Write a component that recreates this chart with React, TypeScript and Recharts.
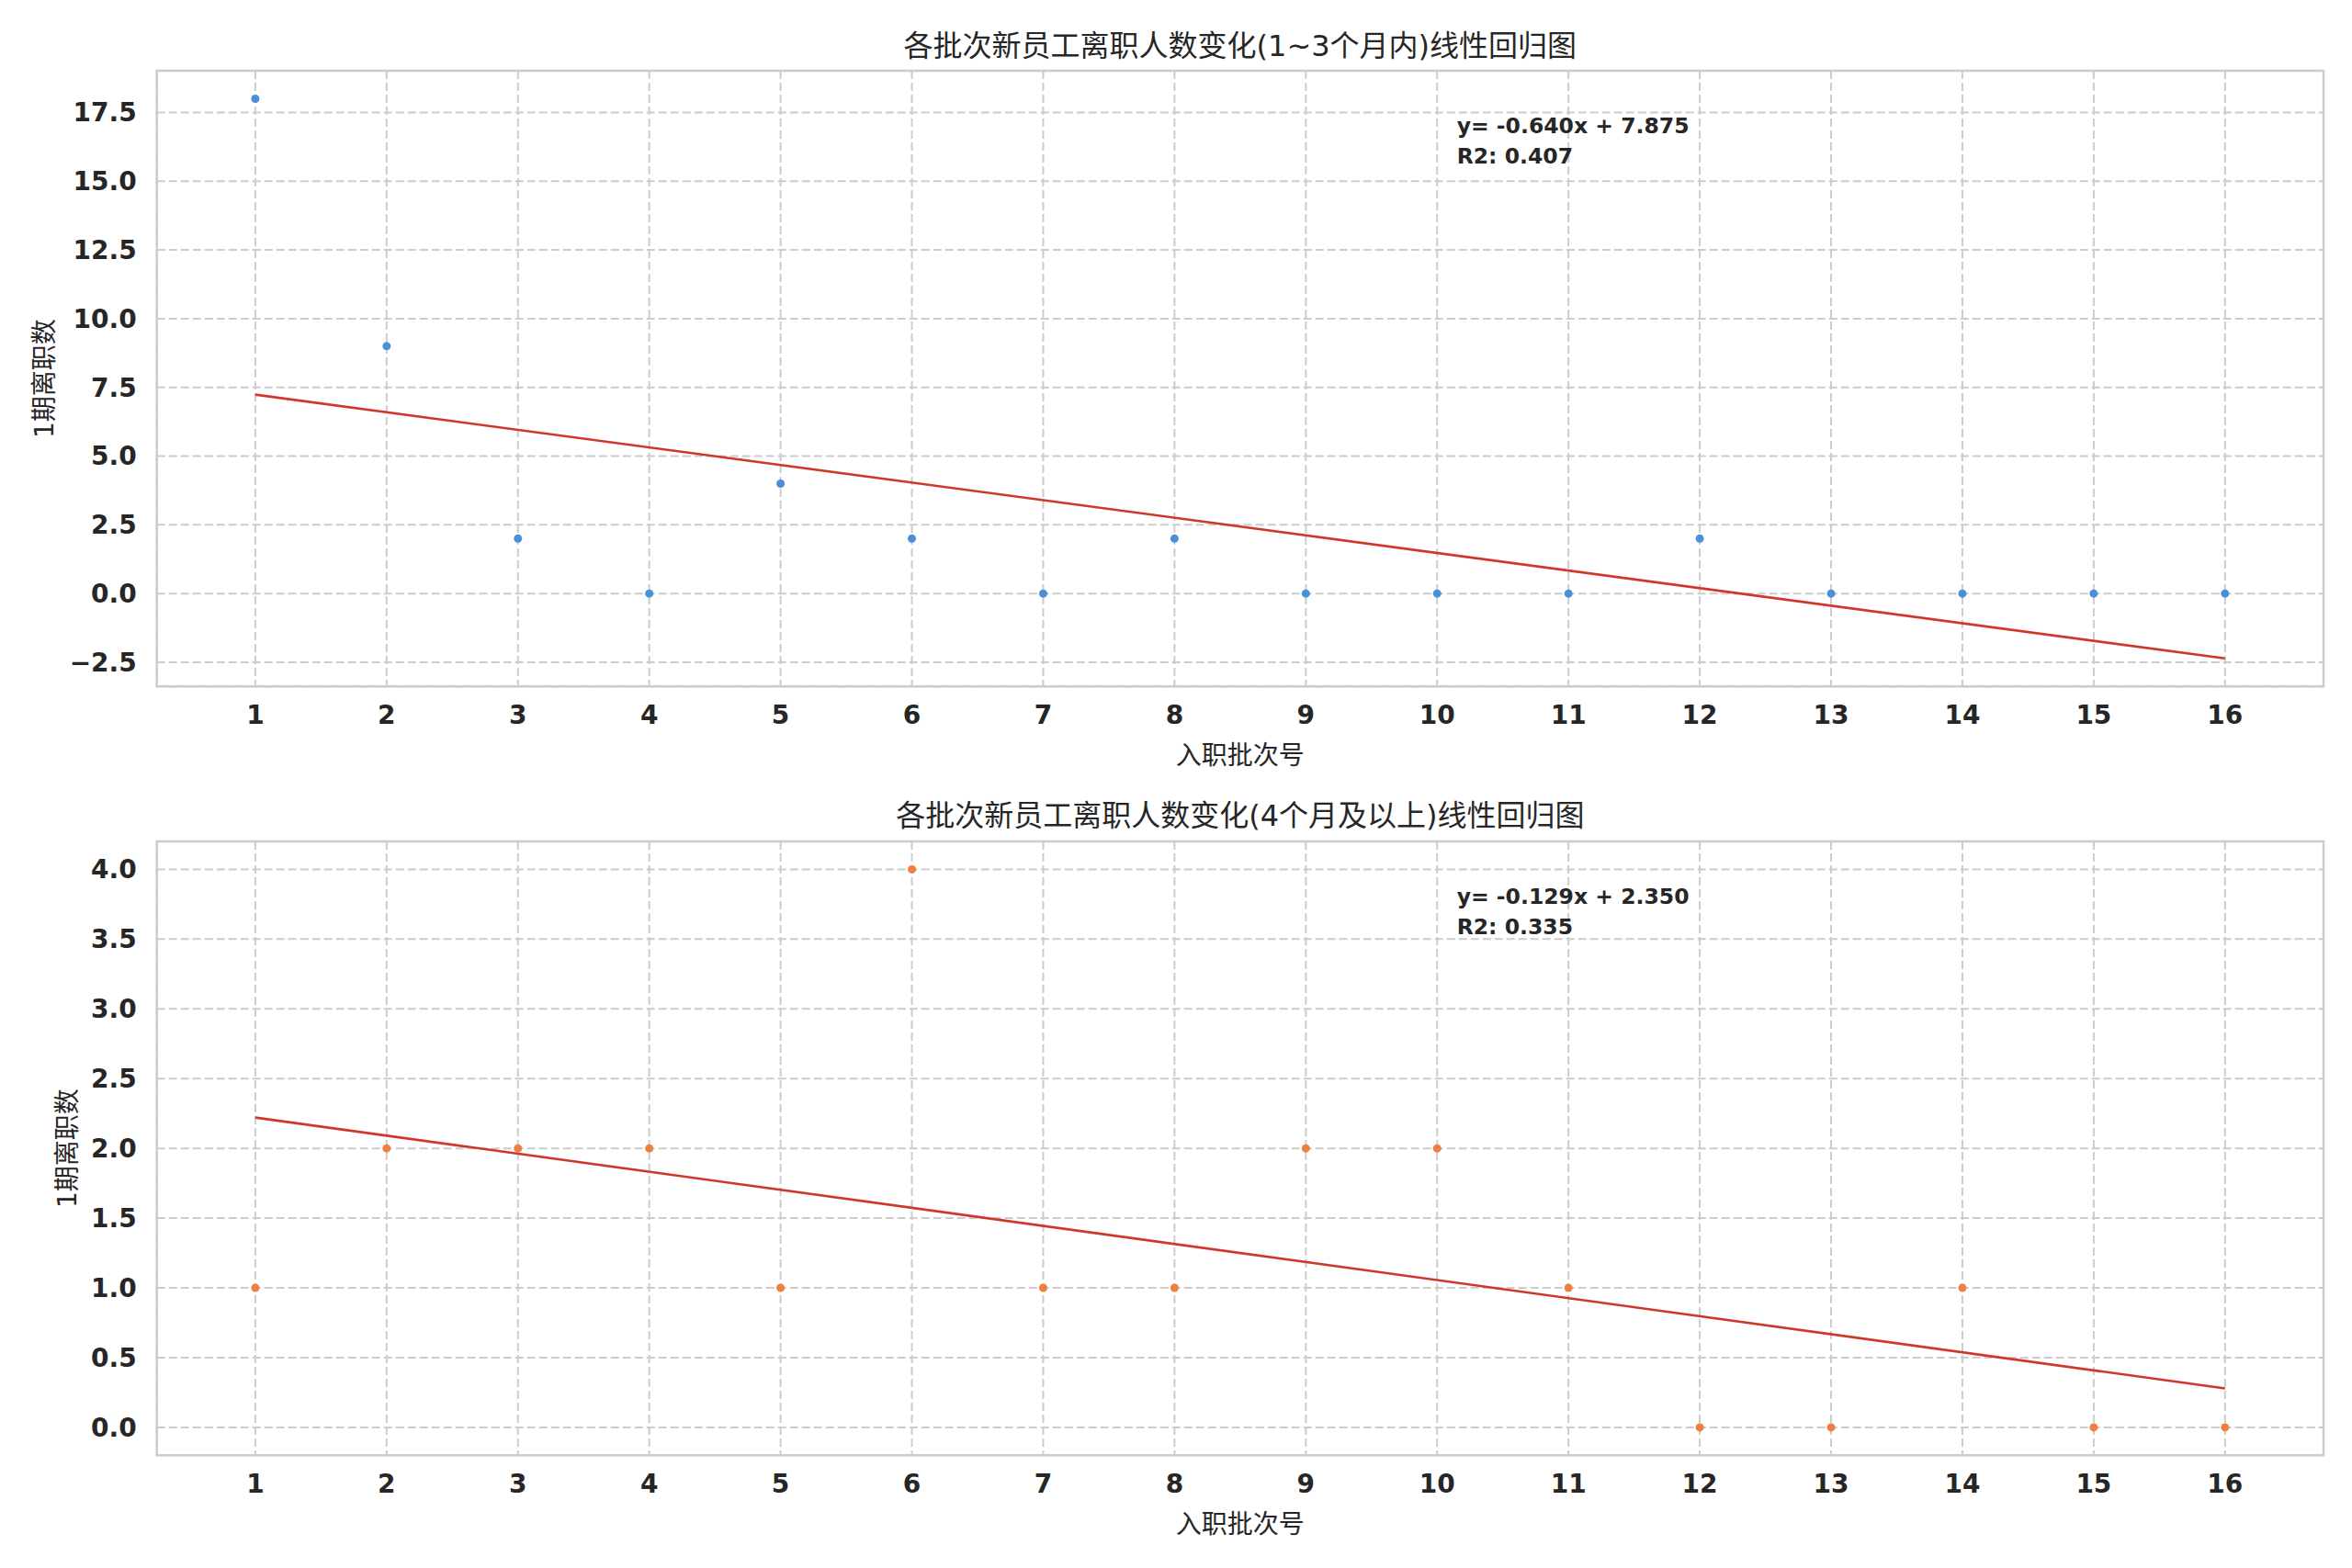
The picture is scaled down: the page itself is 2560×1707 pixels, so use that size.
import React from "react";
import {
  ComposedChart,
  Scatter,
  Line,
  XAxis,
  YAxis,
  CartesianGrid,
  ReferenceArea,
  Label,
} from "recharts";

// ---------- data ----------
const batches = [1, 2, 3, 4, 5, 6, 7, 8, 9, 10, 11, 12, 13, 14, 15, 16];
const shortTermCounts = [18, 9, 2, 0, 4, 2, 0, 2, 0, 0, 0, 2, 0, 0, 0, 0];
const longTermCounts = [1, 2, 2, 2, 1, 4, 1, 1, 2, 2, 1, 0, 0, 1, 0, 0];
const yTicksTop = [-2.5, 0, 2.5, 5, 7.5, 10, 12.5, 15, 17.5];
const yTicksBottom = [0, 0.5, 1, 1.5, 2, 2.5, 3, 3.5, 4];

const titleTop = "各批次新员工离职人数变化(1~3个月内)线性回归图";
const titleBottom = "各批次新员工离职人数变化(4个月及以上)线性回归图";
const xLabelText = "入职批次号";
const yLabelText = "1期离职数";

// ---------- helpers ----------
function fit(xs: number[], ys: number[]) {
  const n = xs.length;
  const mx = xs.reduce((a, b) => a + b, 0) / n;
  const my = ys.reduce((a, b) => a + b, 0) / n;
  let sxy = 0, sxx = 0, syy = 0;
  for (let i = 0; i < n; i++) {
    sxy += (xs[i] - mx) * (ys[i] - my);
    sxx += (xs[i] - mx) ** 2;
    syy += (ys[i] - my) ** 2;
  }
  const slope = sxy / sxx;
  const intercept = my - slope * mx;
  const r2 = (sxy * sxy) / (sxx * syy);
  return { slope, intercept, r2 };
}

const FONT = "'DejaVu Sans', 'Noto Sans CJK SC', sans-serif";
const TEXT = "#262626";
const GRID = "#cccccc";
const LINE_RED = "#d1362a";

const W = 2560;
const PLOT_LEFT = 170.7;
const PLOT_RIGHT = 2529;
const Y_AXIS_W = 150;

function fmt(v: number) {
  const s = Math.abs(v).toFixed(1);
  return v < 0 ? "\u2212" + s : s;
}

type PanelProps = {
  ys: number[];
  color: string;
  yTicks: number[];
  height: number;
  marginTop: number;
  marginBottom: number;
  yLabelOffset: number;
};

function Panel({ ys, color, yTicks, height, marginTop, marginBottom, yLabelOffset }: PanelProps) {
  const { slope, intercept } = fit(batches, ys);
  const points = batches.map((x, i) => ({ x, y: ys[i] }));
  const x0 = batches[0];
  const x1 = batches[batches.length - 1];
  const lineData = [
    { x: x0, y: slope * x0 + intercept },
    { x: x1, y: slope * x1 + intercept },
  ];
  const allY = [...ys, ...lineData.map((d) => d.y)];
  const lo = Math.min(...allY);
  const hi = Math.max(...allY);
  const pad = (hi - lo) * 0.05;
  const yDomain: [number, number] = [lo - pad, hi + pad];
  const xPad = (x1 - x0) * 0.05;
  const xDomain: [number, number] = [x0 - xPad, x1 + xPad];

  return (
    <ComposedChart
      width={W}
      height={height}
      margin={{ top: marginTop, right: W - PLOT_RIGHT, bottom: marginBottom, left: PLOT_LEFT - Y_AXIS_W }}
    >
      <CartesianGrid stroke={GRID} strokeDasharray="9 4" strokeWidth={2} />
      <XAxis
        type="number"
        dataKey="x"
        domain={xDomain}
        ticks={batches}
        interval={0}
        allowDataOverflow
        tickLine={false}
        axisLine={false}
        tickSize={0}
        tickMargin={21}
        height={60}
        tick={{ fill: TEXT, fontSize: 28, fontWeight: "bold", fontFamily: FONT }}
      >
        <Label
          value={xLabelText}
          position="bottom"
          offset={5}
          style={{ fill: TEXT, fontSize: 28, fontFamily: FONT }}
        />
      </XAxis>
      <YAxis
        type="number"
        domain={yDomain}
        ticks={yTicks}
        interval={0}
        allowDataOverflow
        tickLine={false}
        axisLine={false}
        tickSize={0}
        tickMargin={22}
        width={Y_AXIS_W}
        tickFormatter={fmt}
        tick={{ fill: TEXT, fontSize: 28, fontWeight: "bold", fontFamily: FONT }}
      >
        <Label
          value={yLabelText}
          angle={-90}
          position="insideLeft"
          offset={yLabelOffset}
          style={{ fill: TEXT, fontSize: 28, fontFamily: FONT, textAnchor: "middle" }}
        />
      </YAxis>
      <Line
        data={lineData}
        dataKey="y"
        type="linear"
        stroke={LINE_RED}
        strokeWidth={2.6}
        dot={false}
        activeDot={false}
        isAnimationActive={false}
      />
      <Scatter
        data={points}
        dataKey="y"
        isAnimationActive={false}
        shape={(p: any) => <circle cx={p.cx} cy={p.cy} r={4.5} fill={color} />}
      />
      <ReferenceArea
        x1={xDomain[0]}
        x2={xDomain[1]}
        y1={yDomain[0]}
        y2={yDomain[1]}
        fill="none"
        fillOpacity={0}
        stroke={GRID}
        strokeWidth={2.4}
        ifOverflow="visible"
      />
    </ComposedChart>
  );
}

function annotation(ys: number[]) {
  const { slope, intercept, r2 } = fit(batches, ys);
  const sign = intercept >= 0 ? "+" : "-";
  return [
    `y= ${slope.toFixed(3)}x ${sign} ${Math.abs(intercept).toFixed(3)}`,
    `R2: ${r2.toFixed(3)}`,
  ];
}

export default function App() {
  const annTop = annotation(shortTermCounts);
  const annBottom = annotation(longTermCounts);
  const annX = PLOT_LEFT + 0.6 * (PLOT_RIGHT - PLOT_LEFT);
  const centerX = (PLOT_LEFT + PLOT_RIGHT) / 2;
  const TOP_H = 850;
  return (
    <div style={{ position: "absolute", left: 0, top: 0, width: W, height: 1707, background: "#fff" }}>
      <div style={{ position: "absolute", left: 0, top: 0 }}>
        <Panel
          ys={shortTermCounts}
          color="#4a90d9"
          yTicks={yTicksTop}
          height={TOP_H}
          marginTop={77}
          marginBottom={42.7}
          yLabelOffset={27.3}
        />
      </div>
      <div style={{ position: "absolute", left: 0, top: TOP_H }}>
        <Panel
          ys={longTermCounts}
          color="#ee7f3f"
          yTicks={yTicksBottom}
          height={1707 - TOP_H}
          marginTop={66}
          marginBottom={62.7}
          yLabelOffset={52.3}
        />
      </div>
      <svg
        width={W}
        height={1707}
        style={{ position: "absolute", left: 0, top: 0, pointerEvents: "none" }}
      >
        <text x={centerX} y={61} textAnchor="middle" fontFamily={FONT} fontSize={32} fill={TEXT}>
          {titleTop}
        </text>
        <text x={centerX} y={899} textAnchor="middle" fontFamily={FONT} fontSize={32} fill={TEXT}>
          {titleBottom}
        </text>
        <text x={annX} y={145} fontFamily={FONT} fontSize={23.5} fontWeight="bold" fill={TEXT}>
          {annTop[0]}
        </text>
        <text x={annX} y={178} fontFamily={FONT} fontSize={23.5} fontWeight="bold" fill={TEXT}>
          {annTop[1]}
        </text>
        <text x={annX} y={984} fontFamily={FONT} fontSize={23.5} fontWeight="bold" fill={TEXT}>
          {annBottom[0]}
        </text>
        <text x={annX} y={1017} fontFamily={FONT} fontSize={23.5} fontWeight="bold" fill={TEXT}>
          {annBottom[1]}
        </text>
      </svg>
    </div>
  );
}
